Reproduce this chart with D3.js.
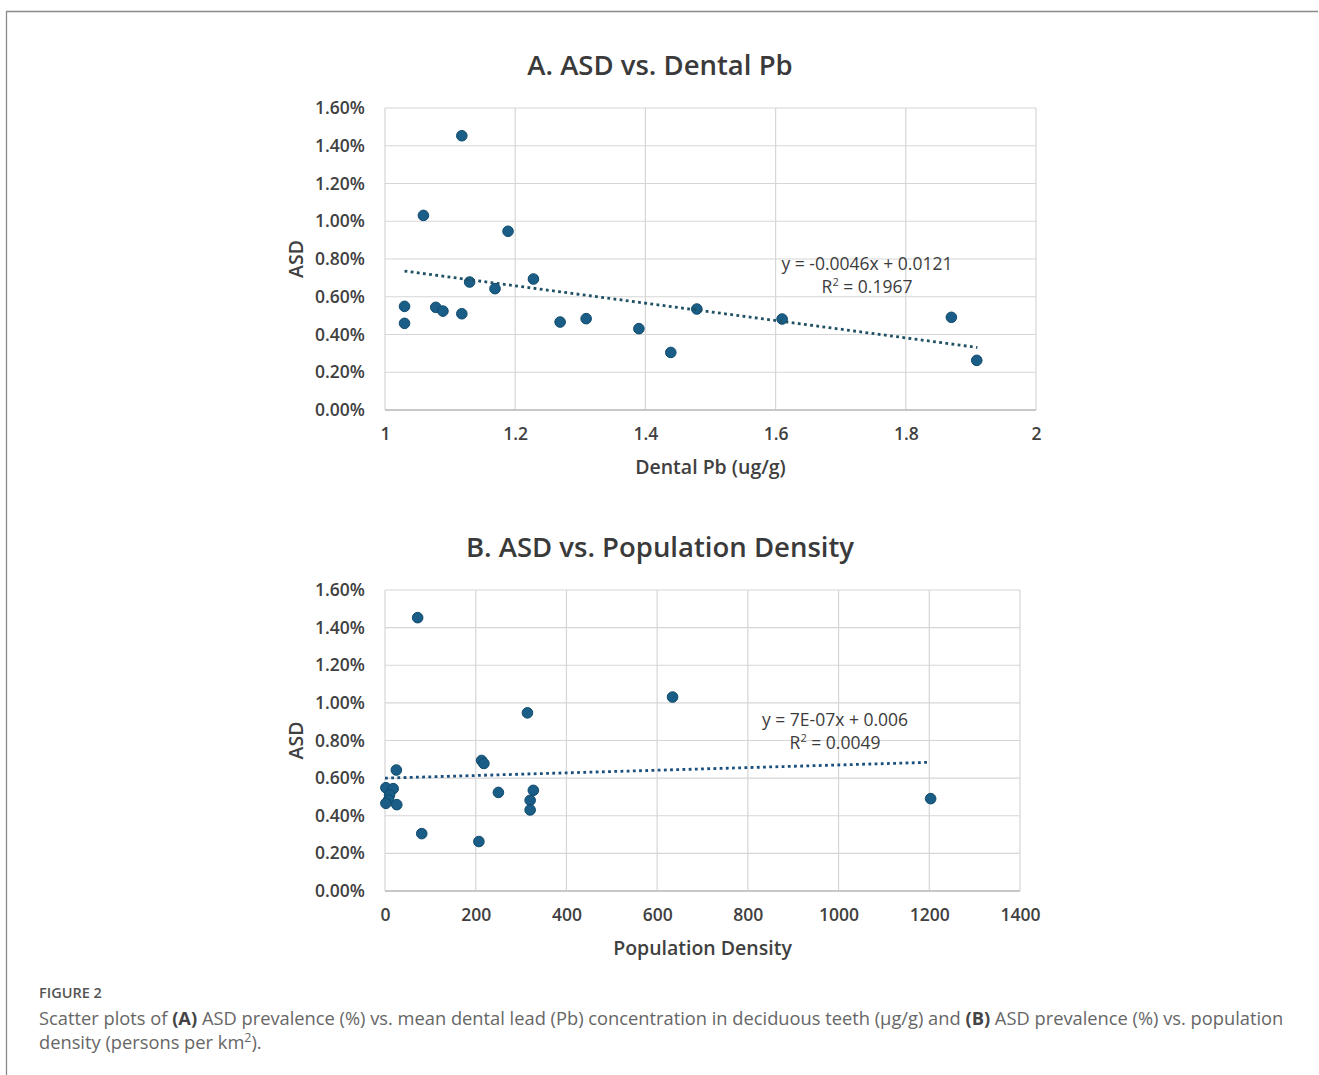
<!DOCTYPE html>
<html>
<head>
<meta charset="utf-8">
<script src="https://cdn.jsdelivr.net/npm/d3@7"></script>
<style>
  body { margin: 0; background: #fff; }
  text { font-family: "Open Sans", "Noto Sans", sans-serif; }
</style>
</head>
<body>
<div id="fig"></div>
<script>
// chart A: ASD vs dental Pb
const pbValues = [1.118, 1.059, 1.189, 1.130, 1.169, 1.228, 1.030, 1.030, 1.078, 1.089,
                  1.118, 1.269, 1.309, 1.390, 1.439, 1.479, 1.870, 1.909, 1.610];
const asdA     = [1.453, 1.031, 0.947, 0.678, 0.643, 0.694, 0.549, 0.459, 0.544, 0.524,
                  0.510, 0.466, 0.484, 0.431, 0.305, 0.535, 0.491, 0.263, 0.482];
// chart B: ASD vs population density
const densityValues = [72, 314, 213, 218, 25, 250, 327, 320, 320, 81, 207, 634, 1203,
                       2, 18, 10, 8, 2, 26];
const asdB          = [1.453, 0.947, 0.694, 0.678, 0.643, 0.524, 0.535, 0.482, 0.431, 0.305, 0.263, 1.031, 0.491,
                       0.549, 0.544, 0.510, 0.484, 0.466, 0.459];

const yTicks = [0, 0.2, 0.4, 0.6, 0.8, 1.0, 1.2, 1.4, 1.6];
const xTicksA = [1, 1.2, 1.4, 1.6, 1.8, 2];
const xTicksB = [0, 200, 400, 600, 800, 1000, 1200, 1400];

// trendlines as printed on the chart (slope, intercept as fraction, x extent)
const trendA = { slope: -0.0046, intercept: 0.0121, x0: 1.03, x1: 1.91, eq: "y = -0.0046x + 0.0121", r2: "0.1967" };
const trendB = { slope: 7e-7, intercept: 0.006, x0: 0, x1: 1200, eq: "y = 7E-07x + 0.006", r2: "0.0049" };

const W = 1319, H = 1075;
const svg = d3.select("#fig").append("svg")
    .attr("width", W).attr("height", H);

// figure frame (top and left edges)
svg.append("path")
    .attr("d", "M6.5," + H + " V11.5 H" + (W - 1))
    .attr("fill", "none").attr("stroke", "#8a8a8a").attr("stroke-width", 1.3);

function scatter(opt) {
    const x = d3.scaleLinear().domain(opt.xDomain).range([opt.left, opt.right]);
    const y = d3.scaleLinear().domain([0, 1.6]).range([opt.bottom, opt.top]);
    const g = svg.append("g");

    g.append("text")
        .attr("x", opt.titleX).attr("y", opt.top - 33)
        .attr("text-anchor", "middle")
        .attr("font-size", 27.5).attr("font-weight", 600).attr("fill", "#3a3a3a")
        .text(opt.title);

    // gridlines
    g.selectAll(".hg").data(yTicks).enter().append("line")
        .attr("x1", opt.left).attr("x2", opt.right)
        .attr("y1", d => y(d)).attr("y2", d => y(d))
        .attr("stroke", "#d6d6d6").attr("stroke-width", 1.2);
    g.selectAll(".vg").data(opt.xTicks).enter().append("line")
        .attr("x1", d => x(d)).attr("x2", d => x(d))
        .attr("y1", opt.top).attr("y2", opt.bottom)
        .attr("stroke", "#d6d6d6").attr("stroke-width", 1.2);
    g.append("line")
        .attr("x1", opt.left).attr("x2", opt.right)
        .attr("y1", opt.bottom).attr("y2", opt.bottom)
        .attr("stroke", "#bdbdbd").attr("stroke-width", 1.5);

    // axes (labels only)
    const ay = g.append("g")
        .attr("transform", "translate(" + (opt.left - 17) + ",0)")
        .call(d3.axisLeft(y).tickValues(yTicks).tickSize(0)
            .tickFormat(d => d3.format(".2f")(d) + "%"));
    const ax = g.append("g")
        .attr("transform", "translate(0," + (opt.bottom + 15) + ")")
        .call(d3.axisBottom(x).tickValues(opt.xTicks).tickSize(0)
            .tickFormat(d => String(d)));
    [ay, ax].forEach(a => {
        a.select(".domain").remove();
        a.selectAll("text")
            .attr("font-family", "'Open Sans', sans-serif")
            .attr("font-size", 17.5).attr("font-weight", 600).attr("fill", "#404040");
    });

    g.append("text")
        .attr("x", (opt.left + opt.right) / 2).attr("y", opt.bottom + 64)
        .attr("text-anchor", "middle")
        .attr("font-size", 19.5).attr("font-weight", 600).attr("fill", "#404040")
        .text(opt.xLabel);
    g.append("text")
        .attr("transform", "translate(" + (opt.left - 82) + "," + ((opt.top + opt.bottom) / 2) + ") rotate(-90)")
        .attr("text-anchor", "middle")
        .attr("font-size", 19.5).attr("font-weight", 600).attr("fill", "#404040")
        .text("ASD");

    // points
    const pts = opt.xs.map((v, i) => [v, opt.ys[i]]);
    g.selectAll("circle").data(pts).enter().append("circle")
        .attr("cx", d => x(d[0])).attr("cy", d => y(d[1]))
        .attr("r", 5.3)
        .attr("fill", "#1a5d86").attr("stroke", "#0f4a6c").attr("stroke-width", 1);

    // trendline
    const t = opt.trend;
    g.append("line")
        .attr("x1", x(t.x0)).attr("y1", y((t.slope * t.x0 + t.intercept) * 100))
        .attr("x2", x(t.x1)).attr("y2", y((t.slope * t.x1 + t.intercept) * 100))
        .attr("stroke", opt.trendColor).attr("stroke-width", 2.8)
        .attr("stroke-dasharray", "2.8,3.4");

    const lab = g.append("text")
        .attr("x", opt.eqX).attr("y", opt.eqY)
        .attr("text-anchor", "middle")
        .attr("font-size", 17.5).attr("font-weight", 500).attr("fill", "#3c3c3c");
    lab.append("tspan").attr("x", opt.eqX).text(t.eq);
    const r = g.append("text")
        .attr("x", opt.eqX).attr("y", opt.eqY + 23)
        .attr("text-anchor", "middle")
        .attr("font-size", 17.5).attr("font-weight", 500).attr("fill", "#3c3c3c");
    r.append("tspan").text("R");
    r.append("tspan").attr("font-size", 11).attr("dy", -7).text("2");
    r.append("tspan").attr("dy", 7).text(" = " + t.r2);
}

scatter({
    title: "A. ASD vs. Dental Pb", titleX: 660,
    xDomain: [1, 2], xTicks: xTicksA, xLabel: "Dental Pb (ug/g)",
    left: 385, right: 1036, top: 108, bottom: 410,
    xs: pbValues, ys: asdA, trend: trendA, trendColor: "#1f5063",
    eqX: 867, eqY: 270
});

scatter({
    title: "B. ASD vs. Population Density", titleX: 660,
    xDomain: [0, 1400], xTicks: xTicksB, xLabel: "Population Density",
    left: 385, right: 1020, top: 590, bottom: 891,
    xs: densityValues, ys: asdB, trend: trendB, trendColor: "#184f7d",
    eqX: 835, eqY: 726
});

// caption
svg.append("text")
    .attr("x", 39).attr("y", 998)
    .attr("font-size", 14.5).attr("font-weight", 600).attr("fill", "#555")
    .text("FIGURE 2");
const cap = svg.append("text")
    .attr("font-size", 18.3).attr("fill", "#666");
const l1 = cap.append("tspan").attr("x", 39).attr("y", 1025);
l1.append("tspan").text("Scatter plots of ");
l1.append("tspan").attr("font-weight", 700).attr("fill", "#444").text("(A)");
l1.append("tspan").text(" ASD prevalence (%) vs. mean dental lead (Pb) concentration in deciduous teeth (\u03bcg/g) and ");
l1.append("tspan").attr("font-weight", 700).attr("fill", "#444").text("(B)");
l1.append("tspan").text(" ASD prevalence (%) vs. population");
const l2 = cap.append("tspan").attr("x", 39).attr("y", 1049);
l2.append("tspan").text("density (persons per km");
l2.append("tspan").attr("font-size", 12.5).attr("dy", -7).text("2");
l2.append("tspan").attr("dy", 7).text(").");
</script>
</body>
</html>
